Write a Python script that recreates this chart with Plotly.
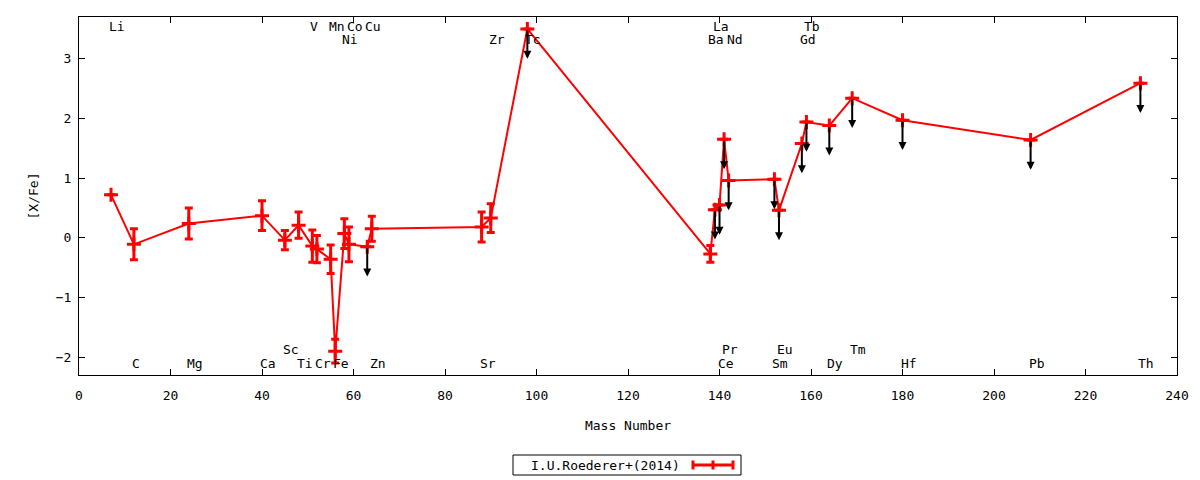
import plotly.graph_objects as go

# ---------------- data ----------------
elements = ["Li", "C", "Mg", "Ca", "Sc", "Ti", "V", "Cr", "Mn", "Fe", "Ni", "Co", "Cu", "Zn",
            "Sr", "Zr", "Tc", "Ba", "La", "Ce", "Pr", "Nd", "Sm", "Eu", "Gd", "Tb", "Dy",
            "Tm", "Hf", "Pb", "Th"]
mass = [7, 12, 24, 40, 45, 48, 51, 52, 55, 56, 58, 59, 63, 64,
        88, 90, 98, 138, 139, 140, 141, 142, 152, 153, 158, 159, 164,
        169, 180, 208, 232]
x_fe = [0.72, -0.11, 0.24, 0.37, -0.04, 0.21, -0.14, -0.19, -0.36, -1.90, 0.07, -0.11, -0.15, 0.15,
        0.18, 0.33, 3.50, -0.27, 0.47, 0.55, 1.65, 0.96, 0.98, 0.46, 1.58, 1.94, 1.88,
        2.34, 1.97, 1.64, 2.59]
err = [None, 0.26, 0.26, 0.25, 0.16, 0.22, 0.27, 0.23, 0.24, 0.20, 0.25, 0.29, None, 0.21,
       0.25, 0.24, None, 0.14, None, None, None, None, None, None, None, None, None,
       None, None, None, None]
upper_limit = [False, False, False, False, False, False, False, False, False, False, False, False, True, False,
               False, False, True, False, True, True, True, True, True, True, True, True, True,
               True, True, True, True]
# label row for each element: "t1" top, "t2" second, "b1" bottom, "b2" just above bottom
label_row = ["t1", "b1", "b1", "b1", "b2", "b1", "t1", "b1", "t1", "b1", "t2", "t1", "t1", "b1",
             "b1", "t2", "t2", "t2", "t1", "b1", "b2", "t2", "b1", "b2", "t2", "t1", "b1",
             "b2", "b1", "b1", "b1"]
series_name = "I.U.Roederer+(2014)"
x_ticks = [0, 20, 40, 60, 80, 100, 120, 140, 160, 180, 200, 220, 240]
y_ticks = [-2, -1, 0, 1, 2, 3]

# ---------------- style ----------------
FONT = "DejaVu Sans Mono"
FS = 13
RED = "#ff0000"
ROW_Y = {"t1": 3.54, "t2": 3.32, "b1": -2.11, "b2": -1.88}
ARROW_LEN = 0.5

# page body has an 8px margin; plot-area target in screen pixels
BODY = 8
W, H = 1200 - BODY, 480 - BODY
PLOT_L, PLOT_R, PLOT_T, PLOT_B = 79, 1177, 17, 375


def px_x(px):
    return (px - PLOT_L) / (PLOT_R - PLOT_L)


def px_y(py):
    return (PLOT_B - py) / (PLOT_B - PLOT_T)


fig = go.Figure()
fig.add_trace(go.Scatter(
    x=mass, y=x_fe, mode="lines+markers", name=series_name, showlegend=False,
    line=dict(color=RED, width=2),
    marker=dict(symbol="cross-thin", size=10, color=RED, line=dict(color=RED, width=3)),
    error_y=dict(type="data", array=err, visible=True, color=RED, thickness=3, width=4),
))

annotations = []
# upper-limit arrows
for m, v, lim in zip(mass, x_fe, upper_limit):
    if lim:
        annotations.append(dict(
            x=m, y=v - ARROW_LEN, ax=m, ay=v, xref="x", yref="y", axref="x", ayref="y",
            text="", showarrow=True, arrowhead=2, arrowsize=0.8, arrowwidth=2,
            arrowcolor="black", standoff=0, startstandoff=0))
# element labels
for el, m, row in zip(elements, mass, label_row):
    annotations.append(dict(
        x=m, y=ROW_Y[row], xref="x", yref="y", text=el, showarrow=False,
        xanchor="left", yanchor="middle", xshift=-3, borderpad=0,
        font=dict(family=FONT, size=FS, color="black")))

# custom gnuplot-style key (text left, sample right)
annotations.append(dict(
    x=px_x(529), y=px_y(465), xref="paper", yref="paper", text=series_name,
    showarrow=False, xanchor="left", yanchor="middle",
    font=dict(family=FONT, size=FS, color="black")))

shapes = [
    dict(type="rect", xref="paper", yref="paper", x0=px_x(513), x1=px_x(741),
         y0=px_y(455), y1=px_y(475), line=dict(color="black", width=1)),
    dict(type="line", xref="paper", yref="paper", x0=px_x(693), x1=px_x(733),
         y0=px_y(465), y1=px_y(465), line=dict(color=RED, width=3)),
]
for cx in (693, 713, 733):
    shapes.append(dict(type="line", xref="paper", yref="paper", x0=px_x(cx), x1=px_x(cx),
                       y0=px_y(460.5), y1=px_y(469.5), line=dict(color=RED, width=3)))

axis_common = dict(
    showline=True, linecolor="black", linewidth=1, mirror="ticks",
    ticks="inside", ticklen=6, tickcolor="black", tickwidth=1,
    showgrid=False, zeroline=False,
    tickfont=dict(family=FONT, size=FS, color="black"),
)

fig.update_layout(
    width=W, height=H,
    margin=dict(l=PLOT_L - BODY, r=W - (PLOT_R - BODY), t=PLOT_T - BODY, b=H - (PLOT_B - BODY)),
    paper_bgcolor="white", plot_bgcolor="white",
    font=dict(family=FONT, size=FS, color="black"),
    showlegend=False,
    xaxis=dict(range=[0, 240], tickvals=x_ticks, ticklabelstandoff=8,
               title=dict(text="Mass Number", standoff=19,
                          font=dict(family=FONT, size=FS, color="black")),
               **axis_common),
    yaxis=dict(range=[-2.3, 3.7], tickvals=y_ticks, ticklabelstandoff=4,
               title=dict(text="[X/Fe]", standoff=14,
                          font=dict(family=FONT, size=FS, color="black")),
               **axis_common),
    annotations=annotations,
    shapes=shapes,
)

fig.write_html("out.html")
